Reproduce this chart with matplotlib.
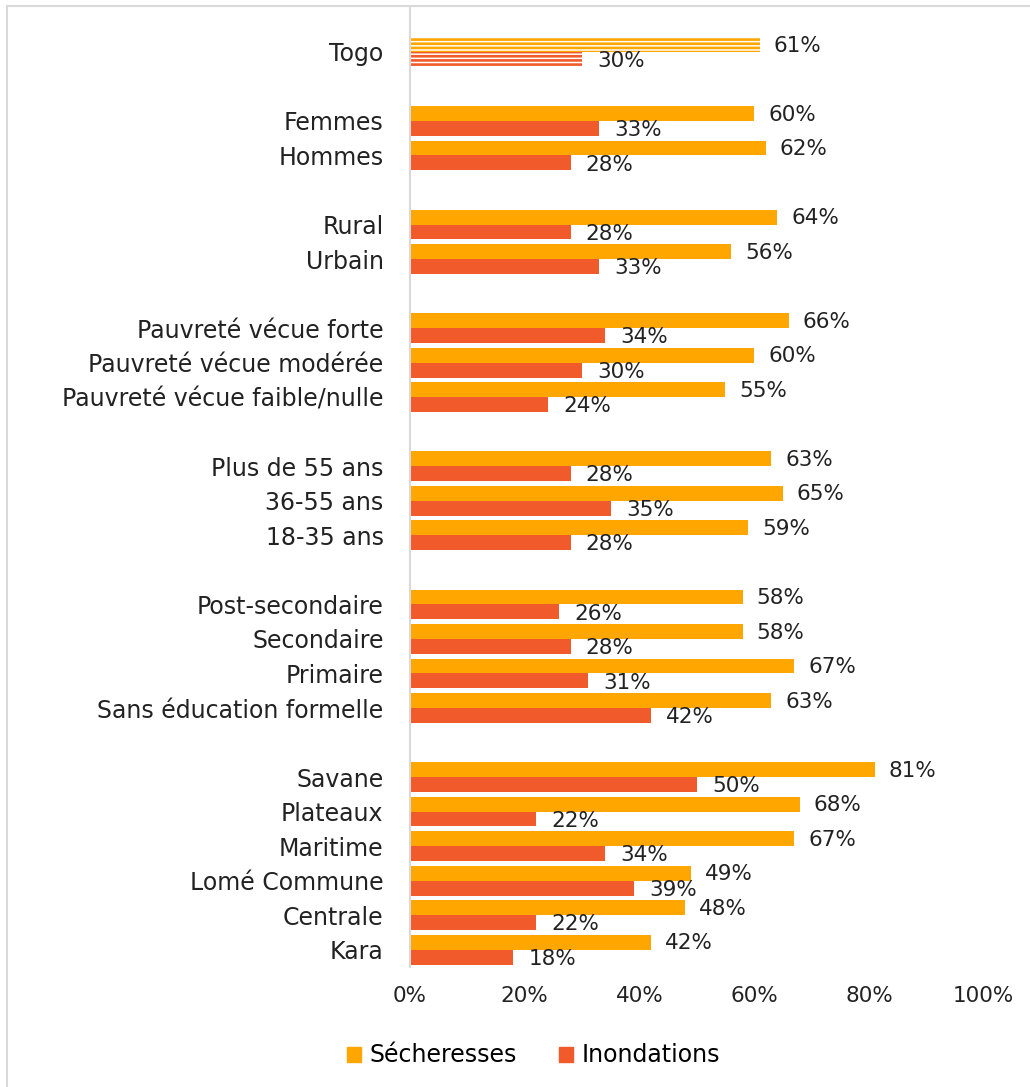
import numpy as np
import matplotlib.pyplot as plt
from matplotlib.patches import Rectangle, Patch

# Data
groups = [
    ["Togo"],
    ["Femmes", "Hommes"],
    ["Rural", "Urbain"],
    ["Pauvreté vécue forte", "Pauvreté vécue modérée", "Pauvreté vécue faible/nulle"],
    ["Plus de 55 ans", "36-55 ans", "18-35 ans"],
    ["Post-secondaire", "Secondaire", "Primaire", "Sans éducation formelle"],
    ["Savane", "Plateaux", "Maritime", "Lomé Commune", "Centrale", "Kara"],
]
secheresses = [61, 60, 62, 64, 56, 66, 60, 55, 63, 65, 59, 58, 58, 67, 63, 81, 68, 67, 49, 48, 42]
inondations = [30, 33, 28, 28, 33, 34, 30, 24, 28, 35, 28, 26, 28, 31, 42, 50, 22, 34, 39, 22, 18]

c_sech = '#FFA600'
c_inon = '#F15A2B'

plt.rcParams['font.family'] = ['DejaVu Sans']
plt.rcParams['hatch.linewidth'] = 1.9

# slot positions: one empty slot between groups
labels = []
pos = []
slot = 0
for g in groups:
    for name in g:
        labels.append(name)
        pos.append(slot)
        slot += 1
    slot += 1
pos = np.array(pos, dtype=float)

fig = plt.figure(figsize=(10.30, 10.87), dpi=100)
ax = fig.add_axes([0.398, 0.1104, 0.557, 0.8822])

h = 0.43
for i, (y, s, f) in enumerate(zip(pos, secheresses, inondations)):
    if i == 0:
        # Togo: striped bars
        ax.barh(y - h / 2, s, height=h, color='white', edgecolor=c_sech, hatch='----', linewidth=0)
        ax.barh(y + h / 2, f, height=h, color='white', edgecolor=c_inon, hatch='----', linewidth=0)
    else:
        ax.barh(y - h / 2, s, height=h, color=c_sech)
        ax.barh(y + h / 2, f, height=h, color=c_inon)
    ax.annotate(f"{s}%", (s, y - h / 2 + 0.03), xytext=(10, 0), textcoords='offset points',
                va='center', ha='left', fontsize=15.5, color='#222222')
    ax.annotate(f"{f}%", (f, y + h / 2 + 0.05), xytext=(11, 0), textcoords='offset points',
                va='center', ha='left', fontsize=15.5, color='#222222')

ax.set_xlim(0, 100)
ax.set_ylim(26.5, -1.27)
ax.set_xticks(np.arange(0, 101, 20))
ax.set_xticklabels([f"{v}%" for v in range(0, 101, 20)])
ax.set_yticks(pos)
ax.set_yticklabels(labels)
ax.tick_params(axis='y', length=0, pad=19, labelsize=17, labelcolor='#222222')
ax.tick_params(axis='x', length=0, pad=14, labelsize=15.5, labelcolor='#222222')
for side in ['top', 'right', 'bottom']:
    ax.spines[side].set_visible(False)
ax.spines['left'].set_color('#d9d9d9')
ax.spines['left'].set_linewidth(1.5)

handles = [Patch(color=c_sech, label='Sécheresses'), Patch(color=c_inon, label='Inondations')]
fig.legend(handles=handles, loc='center', bbox_to_anchor=(0.518, 0.029), ncol=2, frameon=False,
           fontsize=17, handlelength=0.6, handleheight=0.6, handletextpad=0.35, columnspacing=1.8)

# chart border
fig.patches.append(Rectangle((0.007, -0.01), 1.0, 1.0 - 0.0055 + 0.01, transform=fig.transFigure,
                             fill=False, edgecolor='#d9d9d9', linewidth=1.5))

fig.savefig('out.png', dpi=100)
